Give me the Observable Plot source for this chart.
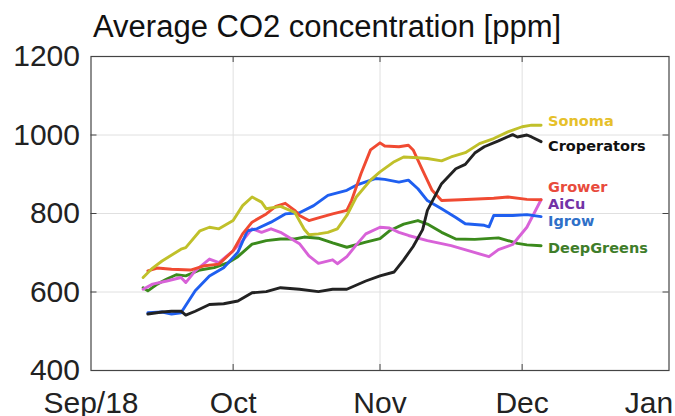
<!DOCTYPE html>
<html>
<head>
<meta charset="utf-8">
<script src="https://cdn.jsdelivr.net/npm/d3@7"></script>
<script src="https://cdn.jsdelivr.net/npm/@observablehq/plot@0.6"></script>
<style>
  html, body { margin: 0; padding: 0; background: #fff; }
  #wrap { position: relative; width: 675px; height: 416px; overflow: hidden; }
  #title {
    position: absolute; left: 93px; top: 11px; margin: 0;
    font: 31px "Liberation Sans", Arial, sans-serif; line-height: 1;
    color: #111; white-space: nowrap;
  }
  #chart { position: absolute; left: 0; top: 40px; }
</style>
</head>
<body>
<div id="wrap">
  <div id="title">Average CO2 concentration [ppm]</div>
  <div id="chart"></div>
</div>
<script>
// Daily average CO2 readings per greenhouse, [date, ppm]
const sonoma = [
  ["2018-09-12",637],["2018-09-14",661],["2018-09-16",679],["2018-09-20",709],["2018-09-21",713],
  ["2018-09-24",756],["2018-09-26",765],["2018-09-28",761],["2018-10-01",782],["2018-10-03",820],
  ["2018-10-05",842],["2018-10-07",829],["2018-10-08",812],["2018-10-11",818],["2018-10-13",808],
  ["2018-10-14",803],["2018-10-16",760],["2018-10-17",746],["2018-10-19",748],["2018-10-21",752],
  ["2018-10-23",761],["2018-10-25",795],["2018-10-27",842],["2018-10-30",885],["2018-11-01",906],
  ["2018-11-04",932],["2018-11-06",944],["2018-11-09",942],["2018-11-11",940],["2018-11-14",934],
  ["2018-11-16",944],["2018-11-19",955],["2018-11-22",978],["2018-11-25",991],["2018-11-28",1008],
  ["2018-12-01",1021],["2018-12-03",1025],["2018-12-05",1025]
];
const croperators = [
  ["2018-09-13",544],["2018-09-16",549],["2018-09-18",551],["2018-09-20",551],["2018-09-21",541],
  ["2018-09-23",551],["2018-09-26",568],["2018-09-29",570],["2018-10-02",577],["2018-10-05",598],
  ["2018-10-08",601],["2018-10-11",611],["2018-10-15",607],["2018-10-19",601],["2018-10-22",607],
  ["2018-10-25",607],["2018-10-29",628],["2018-11-01",641],["2018-11-04",651],["2018-11-06",682],
  ["2018-11-08",716],["2018-11-10",759],["2018-11-11",808],["2018-11-14",876],["2018-11-17",914],
  ["2018-11-19",925],["2018-11-21",954],["2018-11-23",970],["2018-11-26",985],["2018-11-29",1001],
  ["2018-11-30",995],["2018-12-02",1000],["2018-12-03",995],["2018-12-05",983]
];
const grower = [
  ["2018-09-13",654],["2018-09-15",661],["2018-09-18",658],["2018-09-22",656],["2018-09-25",667],
  ["2018-09-28",671],["2018-10-01",705],["2018-10-03",748],["2018-10-05",778],["2018-10-08",799],
  ["2018-10-10",818],["2018-10-12",826],["2018-10-14",808],["2018-10-15",795],["2018-10-17",782],
  ["2018-10-19",789],["2018-10-22",799],["2018-10-25",808],["2018-10-26",833],["2018-10-28",902],
  ["2018-10-30",962],["2018-11-01",980],["2018-11-02",972],["2018-11-05",970],["2018-11-07",974],
  ["2018-11-08",962],["2018-11-10",910],["2018-11-12",859],["2018-11-14",833],["2018-11-18",835],
  ["2018-11-25",839],["2018-11-28",842],["2018-12-02",836],["2018-12-05",835]
];
const aicu = [
  ["2018-09-12",607],["2018-09-14",620],["2018-09-17",628],["2018-09-20",637],["2018-09-21",624],
  ["2018-09-23",654],["2018-09-26",684],["2018-09-28",675],["2018-10-01",705],["2018-10-03",731],
  ["2018-10-05",761],["2018-10-07",752],["2018-10-09",761],["2018-10-11",752],["2018-10-15",723],
  ["2018-10-17",692],["2018-10-19",673],["2018-10-22",682],["2018-10-23",672],["2018-10-25",690],
  ["2018-10-27",720],["2018-10-29",748],["2018-11-01",765],["2018-11-03",763],["2018-11-05",752],
  ["2018-11-07",744],["2018-11-11",731],["2018-11-16",718],["2018-11-20",704],["2018-11-24",690],
  ["2018-11-26",708],["2018-11-29",721],["2018-12-02",765],["2018-12-05",835]
];
const igrow = [
  ["2018-09-13",547],["2018-09-16",549],["2018-09-18",544],["2018-09-20",547],["2018-09-23",603],
  ["2018-09-26",641],["2018-09-29",662],["2018-10-02",701],["2018-10-04",756],["2018-10-06",761],
  ["2018-10-09",778],["2018-10-12",799],["2018-10-15",802],["2018-10-18",820],["2018-10-21",846],
  ["2018-10-25",859],["2018-10-27",872],["2018-10-31",889],["2018-11-02",887],["2018-11-05",880],
  ["2018-11-07",885],["2018-11-09",863],["2018-11-11",833],["2018-11-14",812],["2018-11-17",790],
  ["2018-11-19",774],["2018-11-23",770],["2018-11-24",766],["2018-11-25",795],["2018-11-29",795],
  ["2018-12-02",797],["2018-12-05",792]
];
const deepGreens = [
  ["2018-09-12",611],["2018-09-13",603],["2018-09-15",620],["2018-09-17",633],["2018-09-19",644],
  ["2018-09-21",641],["2018-09-24",656],["2018-09-27",662],["2018-09-30",675],["2018-10-02",690],
  ["2018-10-05",722],["2018-10-08",731],["2018-10-11",735],["2018-10-14",735],["2018-10-16",740],
  ["2018-10-19",737],["2018-10-22",725],["2018-10-25",714],["2018-10-29",727],["2018-11-01",736],
  ["2018-11-03",756],["2018-11-06",773],["2018-11-09",782],["2018-11-11",773],["2018-11-14",752],
  ["2018-11-17",735],["2018-11-21",734],["2018-11-26",738],["2018-11-30",724],["2018-12-02",720],
  ["2018-12-05",718]
];

const seriesNames = ["DeepGreens", "AiCu", "Igrow", "Grower", "Sonoma", "Croperators"];
const seriesValues = [deepGreens, aicu, igrow, grower, sonoma, croperators];

// Axis ticks
const yTicks = [400, 600, 800, 1000, 1200];
const xTickDates = ["2018-09-01", "2018-10-01", "2018-11-01", "2018-12-01", "2019-01-01"];
const xTickLabels = ["Sep/18", "Oct", "Nov", "Dec", "Jan"];

// Styling
const lineColor = {
  Sonoma: "#c0c02a", Croperators: "#222222", Grower: "#f04a32",
  AiCu: "#d862d8", Igrow: "#1f5ff0", DeepGreens: "#3b8a1c"
};
const labelColor = {
  Sonoma: "#e6c02a", Croperators: "#111111", Grower: "#e84b3c",
  AiCu: "#7233a6", Igrow: "#2f70c8", DeepGreens: "#3f7d2a"
};
const labelDy = { Sonoma: -4, Croperators: 5, Grower: -12, AiCu: 5, Igrow: 5, DeepGreens: 3 };

const rows = seriesNames.flatMap((name, i) =>
  seriesValues[i].map(([d, v]) => ({ series: name, date: new Date(d), value: v }))
);

const width = 675, height = 376;
const margin = { top: 16, right: 6.5, bottom: 46, left: 90.5 };
const plotW = width - margin.left - margin.right;
const plotH = height - margin.top - margin.bottom;
const tickLen = 6;

const xTicks = xTickDates.map(d => new Date(d));
const innerX = xTicks.slice(1, -1);
const innerY = yTicks.slice(1, -1);
const labelOf = new Map(xTicks.map((d, i) => [+d, xTickLabels[i]]));
const font = '"Liberation Sans", Arial, sans-serif';

const marks = [
  Plot.gridX(innerX, { stroke: "#e0e0e0", strokeOpacity: 1 }),
  Plot.gridY(innerY, { stroke: "#e0e0e0", strokeOpacity: 1 }),
  // inward tick marks on all four sides
  Plot.tickY(innerY, { y: d => d, stroke: "#444", insetRight: plotW - tickLen }),
  Plot.tickY(innerY, { y: d => d, stroke: "#444", insetLeft: plotW - tickLen }),
  Plot.tickX(innerX, { x: d => d, stroke: "#444", insetTop: plotH - tickLen }),
  Plot.tickX(innerX, { x: d => d, stroke: "#444", insetBottom: plotH - tickLen }),
  Plot.frame({ stroke: "#444", strokeWidth: 1.2 }),
  Plot.axisY({ ticks: yTicks, tickFormat: d => String(d), tickSize: 0, tickPadding: 11,
    fontSize: 30, fontFamily: font, fill: "#222", label: null }),
  Plot.axisX({ ticks: xTicks.slice(0, -1), tickFormat: d => labelOf.get(+d), tickSize: 0, tickPadding: 21,
    fontSize: 30, fontFamily: font, fill: "#222", label: null }),
  Plot.axisX({ ticks: xTicks.slice(-1), tickFormat: d => labelOf.get(+d), tickSize: 0, tickPadding: 21,
    fontSize: 30, fontFamily: font, fill: "#222", label: null, dx: -20 })
];

for (const name of seriesNames) {
  const data = rows.filter(r => r.series === name);
  marks.push(Plot.line(data, {
    x: "date", y: "value", stroke: lineColor[name], strokeWidth: 2.9,
    strokeLinejoin: "round", strokeLinecap: "round"
  }));
}
for (const name of seriesNames) {
  const data = rows.filter(r => r.series === name);
  marks.push(Plot.text(data, Plot.selectLast({
    x: "date", y: "value", text: "series", fill: labelColor[name],
    textAnchor: "start", dx: 7, dy: labelDy[name],
    fontSize: 14.5, fontWeight: "bold", fontFamily: '"DejaVu Sans", Verdana, sans-serif'
  })));
}

const chart = Plot.plot({
  width, height,
  marginTop: margin.top, marginRight: margin.right,
  marginBottom: margin.bottom, marginLeft: margin.left,
  x: { type: "utc", domain: [xTicks[0], xTicks[xTicks.length - 1]], axis: null },
  y: { domain: [400, 1200], axis: null },
  style: { background: "transparent", overflow: "visible" },
  marks
});
document.getElementById("chart").append(chart);
</script>
</body>
</html>
